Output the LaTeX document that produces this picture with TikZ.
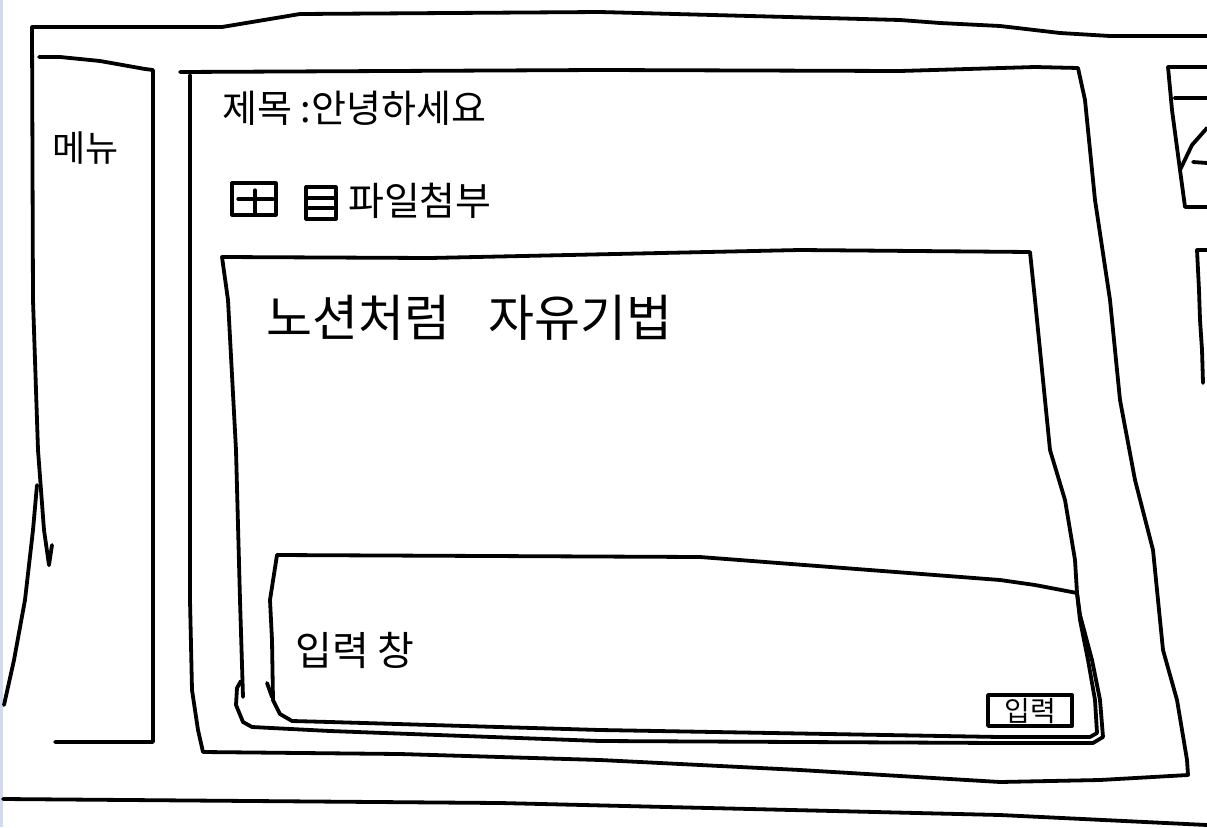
\documentclass[tikz,border=0pt]{standalone}
\usepackage{fontspec}
\newfontfamily\kr{Noto Sans CJK KR}
\definecolor{edgeblue}{RGB}{208,220,238}
\tikzset{
  sketch/.style={line width=3.8pt, line join=round, line cap=round, black},
  hand/.style={font=\kr, inner sep=0pt, anchor=west, black}
}
\begin{document}
\begin{tikzpicture}[x=1pt,y=-1pt]
\useasboundingbox (0,0) rectangle (1207,827);
\fill[white] (0,0) rectangle (1207,827);
\fill[edgeblue] (0,0) rectangle (3,827);

% outer frame
\draw[sketch] (49,565) -- (44,530) -- (38,450) -- (33,300) -- (32,27) -- (222,27) -- (300,14) -- (600,12) -- (900,20) -- (940,23) -- (1000,26) -- (1060,33) -- (1110,36) -- (1207,36);
\draw[sketch] (52,545) -- (49,565);
\draw[sketch] (37,485) -- (33,530) -- (25,600) -- (14,660) -- (4,705);
\draw[sketch] (3,799) -- (500,803) -- (1000,815) -- (1207,825);

% menu panel
\draw[sketch] (39,57) -- (60,57) -- (100,61) -- (145,69) -- (153,70) -- (153,742) -- (55,742);
\node[hand, font=\kr\fontsize{36}{36}\selectfont] (menu) at (52,148) {메뉴};

% main content panel
\draw[sketch] (180,72) -- (600,70) -- (900,71) -- (1035,67) -- (1078,68) -- (1085,100) -- (1095,200) -- (1110,300) -- (1120,400) -- (1135,480) -- (1153,550) -- (1163,650) -- (1177,700) -- (1187,760) -- (1188,775) -- (1100,780) -- (1000,782) -- (800,770) -- (600,760) -- (400,754) -- (203,752) -- (198,730) -- (192,690) -- (190,600) -- (190,75);

\node[hand, font=\kr\fontsize{38}{38}\selectfont] (title) at (222,108) {제목 :안녕하세요};

% attachment icons
\draw[sketch, line width=3.2pt] (232,183) rectangle (276,215);
\draw[sketch, line width=3.2pt] (238,199) -- (273,199);
\draw[sketch, line width=3.2pt] (255,190) -- (255,215);
\draw[sketch, line width=3.2pt] (306,187) rectangle (336,219);
\draw[sketch, line width=3.2pt] (306,198) -- (336,198);
\draw[sketch, line width=3.2pt] (306,208) -- (336,208);
\node[hand, font=\kr\fontsize{39}{39}\selectfont] (attach) at (348,201) {파일첨부};

% editor panel
\draw[sketch] (243,697) -- (240,600) -- (236,450) -- (228,300) -- (222,257) -- (430,258) -- (800,250) -- (1030,252) -- (1035,300) -- (1045,400) -- (1050,450) -- (1065,500) -- (1075,560) -- (1077,593) -- (1080,615) -- (1092,660) -- (1100,700) -- (1103,737) -- (1093,743) -- (1000,743) -- (600,741) -- (330,731) -- (252,727) -- (243,722) -- (236,705) -- (237,688) -- (241,681);
\node[hand, font=\kr\fontsize{50}{50}\selectfont] (mode1) at (266,318) {노션처럼};
\node[hand, font=\kr\fontsize{50}{50}\selectfont] (mode2) at (488,318) {자유기법};

% input area
\draw[sketch] (277,555) -- (700,557) -- (1000,580) -- (1035,585) -- (1077,593);
\draw[sketch] (277,555) -- (270,600) -- (272,640) -- (273,700) -- (280,714) -- (292,721) -- (330,722) -- (600,730) -- (1000,737) -- (1090,737) -- (1097,733) -- (1095,700) -- (1088,660) -- (1080,620) -- (1077,593);
\draw[sketch] (267,683) -- (272,697);
\node[hand, font=\kr\fontsize{40}{40}\selectfont] (inputlabel) at (295,650) {입력 창};

% submit button
\draw[sketch] (988,695) rectangle (1072,726);
\node[font=\kr\fontsize{28}{28}\selectfont, inner sep=0pt] (submit) at (1030,711) {입력};

% partial panels on the right edge
\draw[sketch] (1207,67) -- (1168,67) -- (1172,110) -- (1180,170) -- (1185,207) -- (1207,207);
\draw[sketch] (1175,98) -- (1207,98);
\draw[sketch] (1180,170) -- (1192,145) -- (1207,128);
\draw[sketch] (1193,162) -- (1207,163);
\draw[sketch] (1207,250) -- (1197,250) -- (1199,290) -- (1200,320) -- (1202,350) -- (1203,383);
\end{tikzpicture}
\end{document}
